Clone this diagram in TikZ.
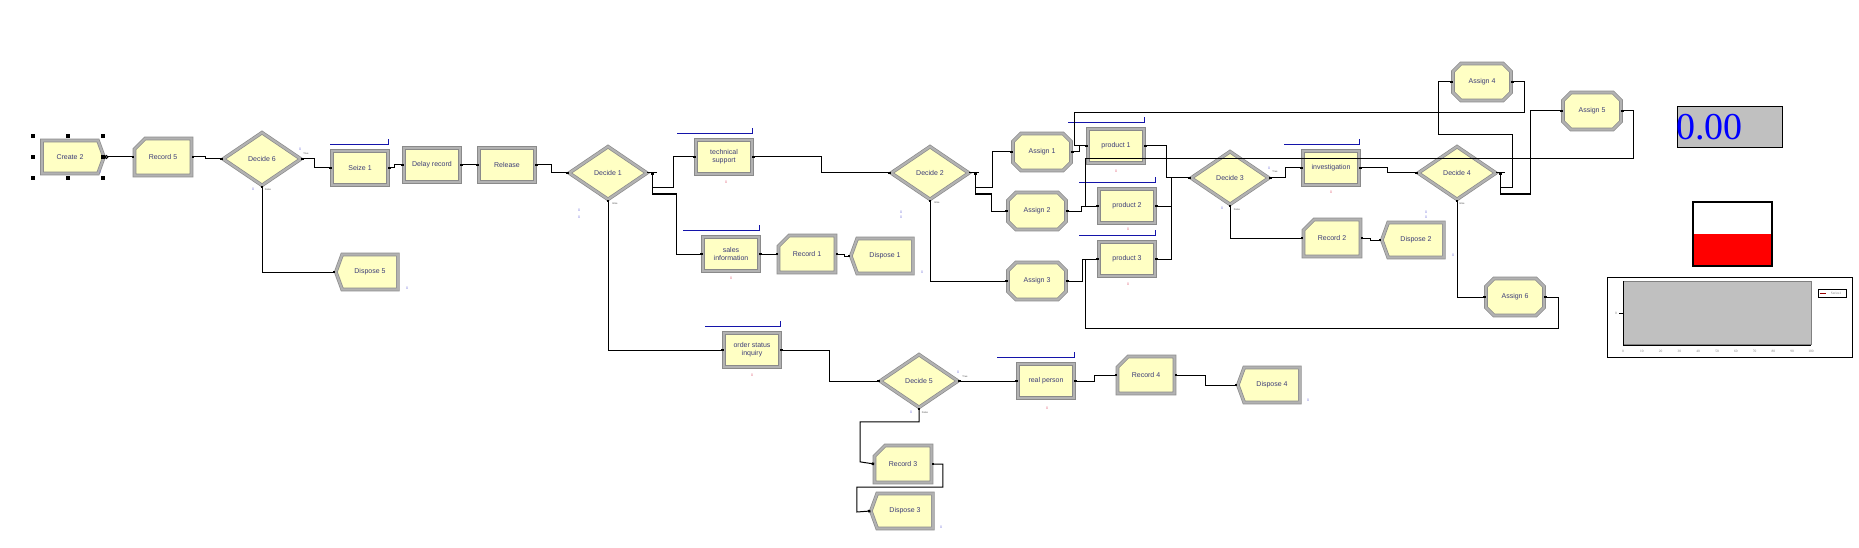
\documentclass[tikz,border=0pt]{standalone}
\usepackage{fontspec}
\setmainfont{Liberation Sans}
\newfontfamily\dispfont{Liberation Serif}
\usetikzlibrary{shapes.geometric,shapes.symbols,shapes.misc,arrows.meta}

\newcommand*{\picw}{1859}
\newcommand*{\pich}{548}

\definecolor{modfill}{RGB}{255,255,196}
\definecolor{modframe}{RGB}{178,178,178}
\definecolor{modedge}{RGB}{138,138,138}
\definecolor{modtext}{RGB}{60,60,120}
\definecolor{queueblue}{RGB}{20,20,170}
\definecolor{cntblue}{RGB}{120,120,220}
\definecolor{cntred}{RGB}{225,100,120}
\definecolor{plotgray}{RGB}{192,192,192}

% queue line above a process module: node, length
\newcommand*{\queue}[2]{%
	\draw[queue] ([yshift=6pt]#1.north east) -- ++(-#2,0);
	\draw[queue] ([yshift=6pt]#1.north east) -- ([yshift=12pt]#1.north east);}

\begin{document}
\begin{tikzpicture}
[
	x=1pt,y=-1pt,
	module/.style={draw=modedge,line width=0.7pt,double=modframe,double distance=2.2pt,fill=modfill,text=modtext,font=\fontsize{7}{8}\selectfont,align=center,inner sep=1pt},
	process/.style={module,rectangle,minimum width=56pt,minimum height=34pt},
	createmod/.style={module,signal,signal to=east,signal pointer angle=140,minimum width=62pt,minimum height=33pt},
	disposemod/.style={module,signal,signal to=west,signal pointer angle=140,minimum width=62pt,minimum height=35pt},
	recordmod/.style={module,chamfered rectangle,chamfered rectangle corners=north west,chamfered rectangle xsep=7pt,chamfered rectangle ysep=7pt,minimum width=57pt,minimum height=37pt},
	assignmod/.style={module,chamfered rectangle,chamfered rectangle xsep=4pt,chamfered rectangle ysep=4pt,minimum width=58pt,minimum height=37pt},
	decidemod/.style={module,diamond,aspect=1.45,minimum width=78pt,minimum height=53pt,inner sep=0pt},
	conn/.style={line width=1pt,{Square[length=2.5pt,width=2.5pt]}-{Square[length=2.5pt,width=2.5pt]}},
	stub/.style={line width=1pt},
	queue/.style={queueblue,line width=1.2pt},
	counter/.style={font=\fontsize{3.5}{4}\selectfont,inner sep=0pt},
	branch/.style={font=\fontsize{2.5}{3}\selectfont,inner sep=0pt,text=black!70}
]
	\useasboundingbox (0,0) rectangle (\picw,\pich);

	% main line
	\node[createmod] at (70,157) (create2) {Create 2};
	\node[recordmod] at (163,157) (rec5) {Record 5};
	\node[decidemod] at (262,159) (dec6) {Decide 6};
	\node[process] at (360,168) (seize1) {Seize 1};
	\node[process] at (432,165) (delay) {Delay record};
	\node[process] at (507,165) (release) {Release};
	\node[disposemod] at (370,272) (disp5) {Dispose 5};
	\node[decidemod] at (608,173) (dec1) {Decide 1};

	% call types
	\node[process] at (724,157) (tech) {technical\\support};
	\node[process] at (731,254) (sales) {sales\\information};
	\node[recordmod] at (807,254) (rec1) {Record 1};
	\node[disposemod] at (885,256) (disp1) {Dispose 1};
	\node[process] at (752,350) (order) {order status\\inquiry};

	% technical support
	\node[decidemod] at (930,173) (dec2) {Decide 2};
	\node[assignmod] at (1042,152) (asg1) {Assign 1};
	\node[assignmod] at (1037,211) (asg2) {Assign 2};
	\node[assignmod] at (1037,281) (asg3) {Assign 3};
	\node[process] at (1116,146) (prod1) {product 1};
	\node[process] at (1127,206) (prod2) {product 2};
	\node[process] at (1127,259) (prod3) {product 3};
	\node[decidemod] at (1230,178) (dec3) {Decide 3};
	\node[process] at (1331,168) (invest) {investigation};
	\node[recordmod] at (1332,238) (rec2) {Record 2};
	\node[disposemod] at (1416,240) (disp2) {Dispose 2};
	\node[decidemod] at (1457,173) (dec4) {Decide 4};
	\node[assignmod] at (1482,82) (asg4) {Assign 4};
	\node[assignmod] at (1592,111) (asg5) {Assign 5};
	\node[assignmod] at (1515,297) (asg6) {Assign 6};

	% order status
	\node[decidemod] at (919,381) (dec5) {Decide 5};
	\node[process] at (1046,381) (real) {real person};
	\node[recordmod] at (1146,375) (rec4) {Record 4};
	\node[disposemod] at (1272,385) (disp4) {Dispose 4};
	\node[recordmod] at (903,464) (rec3) {Record 3};
	\node[disposemod] at (905,511) (disp3) {Dispose 3};

	% queues
	\queue{seize1}{58}
	\queue{tech}{75}
	\queue{sales}{76}
	\queue{order}{75}
	\queue{prod1}{76}
	\queue{prod2}{76}
	\queue{prod3}{76}
	\queue{invest}{75}
	\queue{real}{77}

	% selection handles
	\foreach \hx/\hy in {33/136,68/136,103/136,33/157,103/157,33/178,68/178,103/178}
		\fill (\hx-2,\hy-2) rectangle ++(4,4);

	% connectors
	\draw[conn,{Circle[open,length=4pt]}-{Square[length=2.5pt,width=2.5pt]}] (create2.east) -- (rec5.west);
	\draw[conn] (rec5.east) -- ++(14,0) |- (dec6.west);
	\draw[conn] (dec6.east) -- ++(13,0) |- (seize1.west);
	\draw[conn] (dec6.south) |- (disp5.west);
	\draw[conn] (seize1.east) -- ++(6,0) |- (delay.west);
	\draw[conn] (delay.east) -- (release.west);
	\draw[conn] (release.east) -- ++(16,0) |- (dec1.west);

	\draw[stub] (dec1.east) -- ++(10,0);
	\draw[conn] ([xshift=5pt]dec1.east) |- ++(21,15) |- (tech.west);
	\draw[conn] ([xshift=5pt]dec1.east) |- ++(24,21) |- (sales.west);
	\draw[conn] (dec1.south) |- (order.west);
	\draw[conn] (sales.east) -- (rec1.west);
	\draw[conn] (rec1.east) -- ++(9,0) |- (disp1.west);
	\draw[conn] (tech.east) -- ++(69,0) |- (dec2.west);

	\draw[stub] (dec2.east) -- ++(10,0);
	\draw[conn] ([xshift=6pt]dec2.east) |- ++(17,15) |- (asg1.west);
	\draw[conn] ([xshift=6pt]dec2.east) |- ++(16,21) |- (asg2.west);
	\draw[conn] (dec2.south) |- (asg3.west);
	\draw[conn] (asg1.east) -- ++(8,0) |- (prod1.west);
	\draw[conn] (asg2.east) -- ++(15,0) |- (prod2.west);
	\draw[conn] (asg3.east) -- ++(16,0) |- (prod3.west);
	\draw[conn] (prod1.east) -- ++(22,0) |- (dec3.west);
	\draw[conn] (prod2.east) -- ++(16,0) |- (dec3.west);
	\draw[conn] (prod3.east) -- ++(16,0) |- (dec3.west);
	\draw[conn] (dec3.east) -- ++(16,0) |- (invest.west);
	\draw[conn] (dec3.south) |- (rec2.west);
	\draw[conn] (rec2.east) -- ++(10,0) |- (disp2.west);
	\draw[conn] (invest.east) -- ++(28,0) |- (dec4.west);

	\draw[stub] (dec4.east) -- ++(9,0);
	\draw[conn] ([xshift=4pt]dec4.east) |- ++(12,15) |- ++(-74,-53) |- (asg4.west);
	\draw[conn] ([xshift=4pt]dec4.east) |- ++(30,21) |- (asg5.west);
	\draw[conn] (dec4.south) |- (asg6.west);
	\draw[conn] (asg4.east) -- ++(13,0) -- ++(0,31) -| ([xshift=-13pt]prod1.west) -- (prod1.west);
	\draw[conn] (asg5.east) -- ++(12,0) -- ++(0,48) -| ([xshift=-13pt]prod2.west) -- (prod2.west);
	\draw[conn] (asg6.east) -- ++(14,0) -- ++(0,31) -| ([xshift=-13pt]prod3.west) -- (prod3.west);

	\draw[conn] (order.east) -- ++(49,0) |- (dec5.west);
	\draw[conn] (dec5.east) -- (real.west);
	\draw[conn] (real.east) -- ++(20,0) |- (rec4.west);
	\draw[conn] (rec4.east) -- ++(31,0) |- (disp4.west);
	\draw[conn] (dec5.south) -- ++(0,14) -| ++(-59,40) -- (rec3.west);
	\draw[conn] (rec3.east) -- ++(11,0) -- ++(0,23) -| ++(-86,25) -- (disp3.west);

	% counters
	\foreach \cx/\cy [count=\i] in {100/172,300/149,253/189,407/288,579/210,579/217,901/212,901/217,922/272,1269/168,1222/208,1426/212,1426/217,1453/255,958/372,911/412,941/527,1308/400}
		\node[counter,text=cntblue] at (\cx,\cy) (cntb\i) {0};
	\foreach \cx/\cy [count=\i] in {726/182,731/278,752/375,1116/171,1128/229,1128/284,1331/192,1047/408}
		\node[counter,text=cntred] at (\cx,\cy) (cntr\i) {0};
	\foreach \bx/\by/\bt [count=\i] in {306/154/True,268/190/False,615/204/Else,937/203/Else,1275/172/True,1237/210/False,1462/204/Else,965/377/True,925/413/False}
		\node[branch] at (\bx,\by) (br\i) {\bt};

	% time display
	\node[draw,fill=plotgray,line width=1.2pt,minimum width=105pt,minimum height=41pt] at (1730,127) (tnowbox) {};
	\node[anchor=west,text=blue,font=\dispfont\fontsize{38}{38}\selectfont,inner sep=0pt] at ([xshift=-1pt]tnowbox.west) (tnow) {0.00};

	% level
	\fill[red] (1693,234) rectangle (1772,265);
	\draw[line width=1.2pt] (1693,202) rectangle (1772,266);

	% plot
	\draw[line width=1pt] (1607,277) rectangle (1852,357);
	\filldraw[fill=plotgray,draw=gray,line width=0.8pt] (1623,281) rectangle (1811,344);
	\draw[line width=1pt] (1623,281) -- (1623,345) -- (1811,345);
	\foreach \t [count=\i from 0] in {0,10,...,100}
		\node[font=\dispfont\fontsize{3.5}{4}\selectfont,text=gray,inner sep=0pt] at (1623+18.8*\i,351) (tk\i) {\t};
	\draw[line width=0.8pt] (1619,313) -- (1623,313);
	\node[font=\dispfont\fontsize{3.5}{4}\selectfont,text=gray,inner sep=0pt] at (1616,313) (ytk) {0};
	\draw[line width=0.6pt] (1818,289) rectangle (1846,297);
	\draw[red!60!black,line width=0.8pt] (1820,293) -- (1826,293);
	\node[font=\dispfont\fontsize{3.5}{4}\selectfont,text=gray,inner sep=0pt] at (1836,293) (legend) {Series1};

\end{tikzpicture}
\end{document}
